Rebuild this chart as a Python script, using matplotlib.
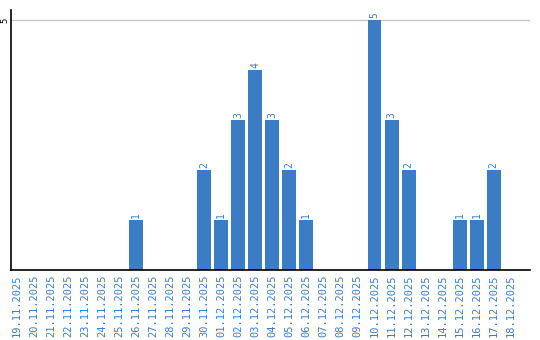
import matplotlib
matplotlib.use("Agg")
import matplotlib.pyplot as plt

dates = ["19.11.2025", "20.11.2025", "21.11.2025", "22.11.2025", "23.11.2025",
         "24.11.2025", "25.11.2025", "26.11.2025", "27.11.2025", "28.11.2025",
         "29.11.2025", "30.11.2025", "01.12.2025", "02.12.2025", "03.12.2025",
         "04.12.2025", "05.12.2025", "06.12.2025", "07.12.2025", "08.12.2025",
         "09.12.2025", "10.12.2025", "11.12.2025", "12.12.2025", "13.12.2025",
         "14.12.2025", "15.12.2025", "16.12.2025", "17.12.2025", "18.12.2025"]
counts = [0, 0, 0, 0, 0, 0, 0, 1, 0, 0,
          0, 2, 1, 3, 4, 3, 2, 1, 0, 0,
          0, 5, 3, 2, 0, 0, 1, 1, 2, 0]

blue = "#3b7dc4"

fig = plt.figure(figsize=(5.4, 3.4), dpi=100)
ax = fig.add_axes([11/540, 1-270/340, (530-11)/540, 260/340])

x = list(range(len(dates)))
ax.bar(x, counts, width=0.82, color=blue, zorder=2)

# value labels above non-zero bars
for i, v in zip(x, counts):
    if v > 0:
        ax.text(i, v + 0.03, str(v), rotation=90, ha="center", va="bottom",
                color=blue, fontsize=7, family="DejaVu Sans Mono")

ax.set_xlim(-0.34, 30.13)
ax.set_ylim(0, 5.2)
ax.set_xticks(x)
ax.set_xticklabels(dates, rotation=90, color=blue, fontsize=7.5, family="DejaVu Sans Mono")
ax.set_yticks([5])
ax.set_yticklabels(["5"], rotation=90, va="center", fontsize=6.5, family="DejaVu Sans Mono")
ax.tick_params(axis="x", length=0, pad=3)
ax.tick_params(axis="y", length=0, pad=1)
ax.axhline(5, color="#c8c8c8", lw=1, zorder=1)

for s in ["top", "right"]:
    ax.spines[s].set_visible(False)
ax.spines["left"].set_color("black")
ax.spines["bottom"].set_color("black")
ax.spines["left"].set_linewidth(1.2)
ax.spines["bottom"].set_linewidth(1.2)

fig.savefig("out.png", dpi=100)
